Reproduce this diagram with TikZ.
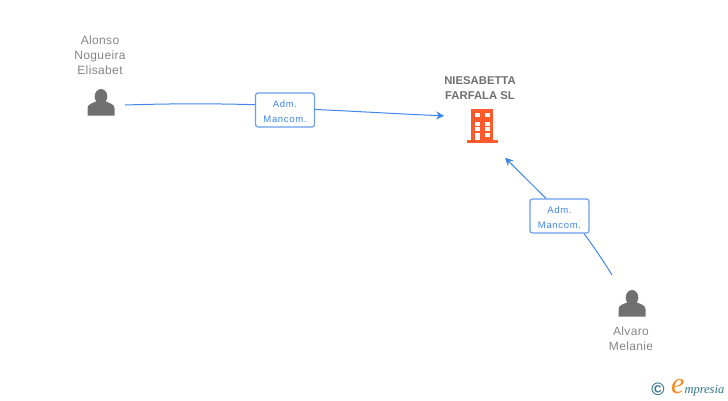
\documentclass[tikz,border=0pt]{standalone}
\usepackage{fontspec}
\setmainfont{Liberation Sans}
\newfontfamily\namefont[LetterSpace=3]{Liberation Sans}
\newfontfamily\rolefont[LetterSpace=7]{Liberation Sans}
\newfontfamily\logofont{Liberation Serif}
\usetikzlibrary{arrows.meta}
\definecolor{linkblue}{HTML}{3F86E8}
\definecolor{boxblue}{HTML}{6A9EE8}
\definecolor{namegray}{HTML}{858585}
\definecolor{titlegray}{HTML}{6F6F6F}
\definecolor{icongray}{HTML}{707070}
\definecolor{buildingred}{HTML}{FF5A2C}
\definecolor{logoteal}{HTML}{2F7488}
\definecolor{logoorange}{HTML}{F58A1F}
\tikzstyle{person}=[minimum size=30pt, inner sep=0]
\tikzstyle{company}=[circle, minimum size=78pt, inner sep=0]
\tikzstyle{person name}=[text=namegray, font=\namefont\fontsize{12}{15}\selectfont, align=center, inner sep=0]
\tikzstyle{company name}=[text=titlegray, font=\fontsize{11.3}{15}\selectfont\bfseries, align=center, inner sep=0]
\tikzstyle{role}=[draw=boxblue, fill=white, line width=1.2pt, rounded corners=2.5pt, minimum width=59pt, minimum height=34pt, inner sep=0, text=linkblue, font=\rolefont\fontsize{9.5}{15}\selectfont, align=center]
\tikzstyle{link}=[draw=linkblue, line width=1pt]
\tikzstyle{link tip}=[-{Stealth[length=8pt, width=8pt]}]
\tikzset{
  personicon/.pic={
    \fill[icongray] (0,-6.5) ellipse (6.3 and 7.5);
    \fill[icongray] (-13.5,12.5) -- (-13.5,5) .. controls (-13.5,1) and (-8,0) .. (-4,-2) -- (4,-2) .. controls (8,0) and (13.5,1) .. (13.5,5) -- (13.5,12.5) -- cycle;
  }
}
\begin{document}
\begin{tikzpicture}[x=1pt, y=-1pt]
      \useasboundingbox (0,0) rectangle (728,400);

      \node[person name] (alonso_name) at (100,55) {Alonso\\Nogueira\\Elisabet};
      \node[person] (alonso) at (101,103) {};
      \pic at (alonso) {personicon};
      \coordinate (alonso_out) at (125,105);

      \node[company name] (niesabetta_name) at (480,88.2) {NIESABETTA\\FARFALA SL};
      \node[company] (niesabetta) at (482,126) {};
      \fill[buildingred] (471,109) rectangle (493,140);
      \fill[buildingred] (466.5,140) rectangle (498,142.5);
      \foreach \y in {113,122,127} {
        \fill[white] (475,\y) rectangle (479.5,\y+4.3);
        \fill[white] (485,\y) rectangle (489.5,\y+4.3);
      }
      \fill[white] (475,132.5) rectangle (479.5,140);
      \fill[white] (485,132.5) rectangle (489.5,137);

      \node[person] (alvaro) at (632,304) {};
      \pic at (alvaro) {personicon};
      \node[person name] (alvaro_name) at (631,338.5) {Alvaro\\Melanie};
      \coordinate (alvaro_out) at (612,275);

      \node[role] (role_alonso) at (285,110) {\rule{0pt}{10pt}Adm.\\Mancom.};
      \node[role] (role_alvaro) at (559.5,216) {\rule{0pt}{10pt}Adm.\\Mancom.};

      \draw[link] (alonso_out) .. controls (170,103.5) and (215,103.5) .. (role_alonso.170);
      \draw[link, link tip] (role_alonso.1.5) .. controls (360,111.5) and (400,114) .. (niesabetta.165);
      \draw[link] (alvaro_out) .. controls (604,262) and (594,247) .. (584,0 |- role_alvaro.south);
      \draw[link, link tip] (546,0 |- role_alvaro.north) -- (niesabetta.-54);

      \node[text=logoteal, font=\bfseries\fontsize{18}{18}\selectfont, inner sep=0] (logo_mark) at (658,389) {©};
      \node[text=logoteal, font=\logofont\itshape\fontsize{12.5}{12.5}\selectfont, anchor=base west, inner sep=0] (logo_text) at (671,393) {\textcolor{logoorange}{\fontsize{30}{30}\selectfont e}mpresia};
    \end{tikzpicture}
\end{document}
